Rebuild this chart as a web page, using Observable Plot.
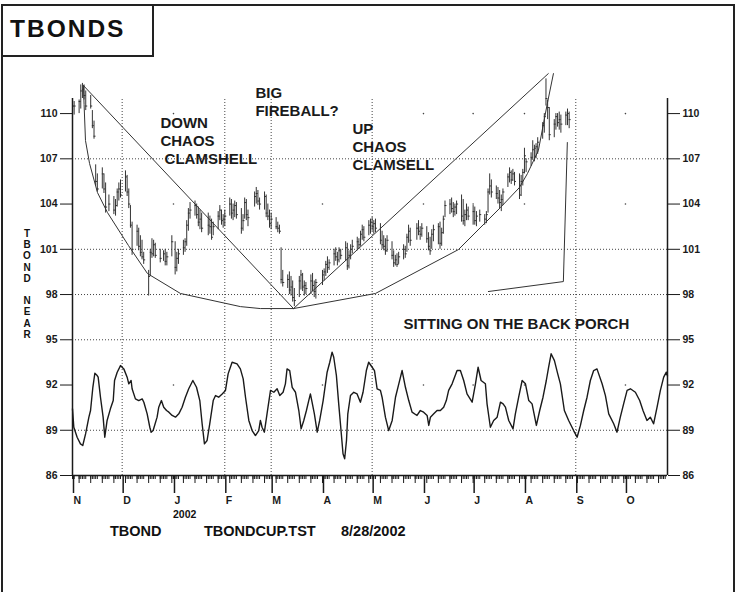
<!DOCTYPE html>
<html><head><meta charset="utf-8">
<script src="https://cdn.jsdelivr.net/npm/d3@7"></script>
<script src="https://cdn.jsdelivr.net/npm/@observablehq/plot@0.6"></script>
<style>
html,body{margin:0;padding:0;background:#fff;}
#wrap{position:relative;width:736px;height:592px;overflow:hidden;font-family:"Liberation Sans",Arial,sans-serif;font-weight:bold;color:#111;}
#outer{position:absolute;left:1px;top:4px;width:734px;height:600px;border:2px solid #222;border-bottom:none;box-sizing:border-box;}
#titlebox{position:absolute;left:1px;top:4px;width:153px;height:53px;border:2px solid #222;box-sizing:border-box;background:#fff;}
.t{position:absolute;line-height:1;white-space:pre;}
#chart{position:absolute;left:0;top:0;}
#ylab{position:absolute;left:21px;top:228px;width:12px;text-align:center;font-size:10px;line-height:11.2px;}
</style></head>
<body>
<div id="wrap">
  <div id="chart"></div>
  <div id="outer"></div>
  <div id="titlebox"></div>
  <div class="t" style="left:10px;top:17px;font-size:24.5px;letter-spacing:2px;">TBONDS</div>
  <div id="ylab">T<br>B<br>O<br>N<br>D<br>&nbsp;<br>N<br>E<br>A<br>R</div>
  <div class="t" style="left:173px;top:509px;font-size:10.5px;">2002</div>
  <div class="t" style="left:110px;top:523.7px;font-size:14.5px;">TBOND</div>
  <div class="t" style="left:204px;top:523.7px;font-size:14.5px;">TBONDCUP.TST</div>
  <div class="t" style="left:341px;top:523.7px;font-size:14.5px;">8/28/2002</div>
</div>
<script>
// ---- data (days counted from 1 Nov 2001) ----
const startDate = "2001-11-01";
const yTicks = [86, 89, 92, 95, 98, 101, 104, 107, 110];
const gridLevels = [89, 95, 98, 101, 107];
const dotLevels = [92, 104, 110];
const gridMonths = ["2001-12-01", "2002-02-01", "2002-03-01", "2002-05-01", "2002-09-01"];
const dotMonths = ["2002-01-01", "2002-04-01", "2002-06-01", "2002-07-01", "2002-08-01", "2002-10-01"];
const monthStarts = ["2001-11-01","2001-12-01","2002-01-01","2002-02-01","2002-03-01","2002-04-01","2002-05-01","2002-06-01","2002-07-01","2002-08-01","2002-09-01","2002-10-01"];
const monthLetters = ["N","D","J","F","M","A","M","J","J","A","S","O"];
const lastDay = 359.4;

// [day, high, low, close]
const priceBars = [
[0,110.9,109.0,110.5],[1,110.8,109.9,110.5],[4,110.9,110.0,110.8],[5,111.9,110.3,111.5],[6,112.0,111.0,111.6],
[7,111.9,110.9,111.2],[8,111.5,110.2,110.5],[11,111.2,110.3,110.5],[12,110.2,109.0,109.2],[13,109.5,108.3,108.5],
[14,106.6,105.2,105.5],[15,106.0,104.8,105.0],[18,106.4,105.0,106.0],[19,106.0,104.7,105.0],[20,105.4,103.4,103.8],
[22,104.6,103.5,104.0],[25,104.5,103.3,103.6],[26,104.3,103.2,103.9],[27,105.0,103.8,104.8],[28,105.4,104.2,105.0],
[29,105.6,104.4,104.6],[32,106.2,104.8,105.8],[33,105.9,104.5,104.8],[34,105.0,103.7,104.0],[35,103.9,102.4,102.6],
[36,102.8,100.6,101.0],[39,102.6,101.2,102.2],[40,102.4,100.9,101.2],[41,101.9,100.5,100.8],[42,101.6,100.3,100.5],
[43,100.8,100.0,100.3],[46,99.6,97.9,99.2],[47,101.0,99.2,100.8],[48,101.7,100.4,100.7],[49,101.6,100.5,101.3],
[50,101.4,100.4,100.6],[53,101.0,100.1,100.4],[55,100.9,100.2,100.7],[56,101.0,99.9,100.2],[57,100.8,99.9,100.5],
[60,101.9,100.5,101.5],[62,101.5,99.3,99.8],[63,100.8,99.5,100.4],[64,101.0,100.0,100.7],[67,101.6,100.6,101.1],
[68,101.7,100.8,101.5],[69,102.9,101.2,102.6],[70,103.7,102.2,103.4],[71,104.1,103.0,103.6],[74,104.2,103.2,103.9],
[75,104.0,103.0,103.3],[76,103.8,102.5,102.8],[77,103.6,102.3,103.0],[78,103.4,102.1,102.4],[82,103.4,101.9,102.6],
[83,103.2,102.0,102.5],[84,103.0,101.6,101.8],[85,102.8,101.9,102.5],[88,103.5,102.3,103.2],[89,103.9,102.9,103.6],
[90,103.6,102.6,102.9],[91,103.3,102.4,103.0],[92,103.6,102.5,103.2],[95,104.4,103.2,104.0],[96,104.3,103.0,103.4],
[97,104.0,102.9,103.6],[98,104.2,103.1,103.9],[99,104.1,103.0,103.3],[102,103.7,102.0,102.4],[103,103.3,102.2,102.9],
[104,104.4,103.0,104.1],[105,104.3,102.9,103.3],[106,103.6,102.5,103.1],[110,104.8,103.8,104.5],[111,105.1,104.0,104.7],
[112,104.9,103.9,104.2],[113,104.4,103.6,104.0],[116,104.8,103.6,104.5],[117,104.6,103.1,103.4],[118,104.0,102.9,103.2],
[119,103.6,102.4,102.7],[120,103.4,102.3,103.0],[123,103.1,102.3,102.5],[124,102.8,102.1,102.4],[125,102.6,102.0,102.2],
[126,101.1,98.7,99.0],[127,99.6,98.5,98.8],[130,99.3,98.4,99.0],[131,99.5,98.0,98.3],[132,99.2,97.9,98.5],
[133,98.9,97.5,97.8],[134,98.4,97.2,97.6],[137,99.2,97.8,98.9],[138,99.6,98.3,99.3],[139,99.4,98.2,98.5],
[140,98.9,97.9,98.6],[141,98.8,98.0,98.4],[144,99.3,98.0,98.9],[145,99.4,98.2,98.6],[146,98.9,97.8,98.2],
[147,99.0,97.7,98.8],[151,99.6,98.6,99.3],[152,99.7,98.9,99.5],[153,100.2,99.2,100.0],[154,100.5,99.4,99.8],
[155,100.3,99.6,100.1],[158,101.0,99.9,100.7],[159,101.1,100.2,100.5],[160,100.8,99.9,100.3],[161,101.1,100.1,100.9],
[162,101.0,100.3,100.6],[165,101.5,100.2,101.1],[166,101.4,99.6,99.9],[167,100.9,99.7,100.6],[168,101.3,100.3,101.0],
[169,101.6,100.7,101.2],[172,101.8,100.9,101.5],[173,101.7,101.0,101.3],[174,102.2,101.2,102.0],[175,102.6,101.6,102.3],
[176,102.5,101.5,101.8],[179,102.9,101.9,102.6],[180,103.0,102.0,102.8],[181,103.1,102.2,102.5],[182,102.9,102.0,102.7],
[183,103.0,102.1,102.4],[186,102.7,101.3,101.6],[187,102.2,101.0,101.3],[188,101.9,100.9,101.2],[189,101.7,100.6,100.9],
[190,101.9,100.8,101.6],[193,101.5,100.3,100.6],[194,100.9,99.8,100.1],[195,100.6,99.9,100.3],[196,100.7,99.8,100.0],
[197,100.8,100.0,100.5],[200,101.3,100.3,101.0],[201,101.2,100.4,100.7],[202,102.0,100.8,101.8],[203,102.6,101.4,102.2],
[204,102.4,101.2,101.6],[208,102.7,101.6,102.4],[209,102.9,101.9,102.2],[210,102.5,101.6,102.0],[211,102.7,101.8,102.4],
[214,102.5,101.4,101.7],[215,102.1,100.9,101.2],[216,101.8,100.6,100.9],[217,102.3,101.0,102.0],[218,102.6,101.5,102.3],
[221,102.7,101.3,102.5],[222,102.8,101.0,101.4],[223,102.4,101.2,102.1],[224,103.2,102.0,103.0],[225,104.2,103.1,103.9],
[228,104.3,103.3,104.0],[229,104.4,103.4,103.7],[230,104.1,103.1,103.5],[231,104.0,103.2,103.8],[232,104.2,103.3,104.0],
[235,104.6,102.8,103.2],[236,104.3,102.6,102.9],[237,103.6,102.5,103.3],[238,104.0,102.9,103.6],[239,103.8,102.9,103.2],
[242,103.9,102.6,103.5],[243,103.8,102.6,102.9],[244,103.5,102.5,103.2],[246,103.6,102.8,103.3],[249,103.3,102.6,103.0],
[250,103.5,102.7,103.3],[251,105.0,103.4,104.8],[252,106.0,104.6,105.2],[253,105.6,104.4,104.8],[256,105.2,104.3,104.7],
[257,105.1,104.0,104.4],[258,104.9,103.7,104.1],[259,104.6,103.5,104.3],[260,105.0,103.9,104.8],[263,106.0,105.1,105.8],
[264,106.4,105.4,106.1],[265,106.2,105.3,105.6],[266,106.3,105.5,106.0],[267,106.1,105.2,105.5],[270,106.0,104.3,104.6],
[271,105.9,104.5,105.5],[272,106.3,105.2,106.1],[273,107.7,106.0,107.2],[274,107.0,106.1,106.8],[277,107.4,106.5,107.1],
[278,108.2,106.9,107.6],[279,107.9,106.8,107.7],[280,108.0,107.0,107.8],[281,108.4,107.3,108.1],[284,109.4,108.3,109.2],
[285,110.0,108.7,109.8],[286,112.3,110.5,111.0],[287,110.9,109.6,110.4],[288,110.4,108.2,108.6],[291,109.6,108.4,109.3],
[292,110.0,108.9,109.8],[293,110.0,109.1,109.4],[294,110.1,108.9,109.6],[295,109.9,108.7,109.3],[298,110.1,109.2,109.9],
[299,110.3,109.2,110.0],[300,110.1,109.0,109.6]
];

// oscillator [day, value]
const oscillator = [
[0,90.42],[0.8,89.2],[2.8,88.54],[4.8,88.1],[6.2,87.99],[7.9,88.76],[9.9,89.87],[10.9,90.31],[12.3,91.85],[13.5,92.78],
[14.9,92.63],[15.5,92.52],[16.9,91.19],[18.5,89.87],[19.5,88.54],[20.9,89.65],[22.9,90.42],[24.6,90.97],[25.4,92.3],[27,92.85],
[29,93.29],[31,93.07],[33,92.52],[34,92.08],[35.4,92.3],[36,91.75],[38,91.08],[40,90.97],[42.1,91.08],[43.1,90.86],
[45.1,90.09],[46.7,89.2],[47.5,88.87],[48.7,88.98],[51.1,89.87],[52.1,90.53],[53.7,90.97],[55.1,90.53],[56.8,90.31],[58.2,90.2],
[60.2,89.98],[62.2,89.87],[64.2,90.09],[66.2,90.53],[68.2,91.19],[70.2,91.75],[72.7,92.3],[74.9,91.85],[76.9,90.97],[78.3,89.43],
[79.7,88.1],[81.3,88.32],[82.9,89.43],[85,90.97],[86.4,91.3],[88.3,91.19],[90.4,91.41],[92.4,91.64],[94,92.74],[96.4,93.51],
[99.4,93.4],[101.4,93.07],[103.1,92.41],[104.5,91.19],[106.5,89.65],[108.5,88.98],[110.5,88.65],[112.5,88.98],[113.5,89.65],[114.5,89.2],
[115.9,88.87],[117.5,90.09],[119.6,91.64],[121.6,91.52],[123.6,91.75],[125.2,91.3],[127.2,91.52],[128.6,92.08],[129.6,93.07],[131.2,92.96],
[132.7,91.85],[134.7,91.52],[136.7,90.31],[138.1,89.09],[139.7,89.65],[141.3,90.31],[142.7,90.97],[143.7,91.41],[144.7,90.86],[146.1,90.09],
[147.8,88.87],[149.3,89.65],[151.4,90.97],[153.8,92.85],[155.4,93.51],[156.8,94.18],[157.8,93.84],[159.4,92.63],[160.8,90.75],[162.2,88.98],
[163.4,87.44],[164.4,87.11],[165.5,88.32],[166.3,90.09],[167.9,91.3],[169.9,91.52],[171.9,91.41],[173.9,90.86],[175.5,91.52],[177.5,92.96],
[178.9,93.51],[181,93.18],[182.4,92.96],[184,91.75],[186,91.64],[187,91.19],[189,89.87],[191,88.98],[193.1,89.65],[195.1,91.19],
[197.1,92.08],[199.1,92.96],[201.1,91.85],[203.1,90.97],[205.1,90.2],[208.1,89.98],[210.1,90.31],[212.1,90.2],[214.2,89.98],[215.2,89.32],
[216.2,89.87],[218.2,90.09],[220.2,90.31],[222.2,90.31],[224.2,90.53],[225.8,90.97],[227.2,91.64],[229.3,92.08],[232.3,92.96],[234.3,92.96],
[236.3,92.3],[238.3,91.41],[241.4,90.86],[243.4,92.08],[245,93.18],[246.8,92.3],[249.4,92.08],[250.4,90.75],[252.4,89.2],[254.4,89.65],
[256.5,89.87],[258.5,90.86],[260.1,90.75],[261.5,90.53],[263.5,89.65],[266.1,89.09],[267.5,90.09],[269.5,91.19],[271.6,92.3],[273.6,92.08],
[275.6,90.97],[277.6,90.75],[280.2,89.32],[282.2,90.31],[284.2,91.19],[286.2,92.3],[287.6,93.18],[289.1,94.07],[291.1,93.62],[293.1,92.74],
[294.7,92.08],[297.1,90.31],[299.7,89.65],[302.7,88.98],[304.8,88.54],[306.8,89.32],[308.8,90.31],[310.8,91.19],[312.8,92.3],[314.8,92.96],
[316.8,93.07],[319.9,92.08],[321.9,91.3],[323.9,90.09],[326.9,89.43],[328.9,88.87],[330.9,89.87],[332.9,90.75],[335,91.64],[337,91.75],
[340,91.52],[342.6,90.97],[344.6,90.31],[347,89.65],[349,89.87],[351,89.43],[353.1,90.53],[355.1,91.64],[357.1,92.52],[358.7,92.85],[359.4,92.6]
];

// hand-drawn annotation lines [day, value]
const downUpper = [[6.6,111.86],[133.5,97.07]];
const downLower = [[6.6,111.86],[7.0,110.6],[7.85,108.21],[10.3,106.69],[15.1,104.76],[21.1,103.44],[33.8,101.25],[45.3,99.39],[65.2,98.07],[101.4,97.2],[113.5,97.07],[133.5,97.07]];
const upUpper = [[133.5,97.07],[287.4,112.65]];
const upLower = [[133.5,97.07],[183,98.07],[233.1,100.98],[249.4,102.77],[258.5,103.77],[269.9,105.09],[274.8,106.02],[281.4,107.55],[286.8,110.66],[290.5,112.65]];
const backPorch = [[251.2,98.2],[296.5,98.86],[298.9,108.08]];

const noteText = ["DOWN\nCHAOS\n\u00a0CLAMSHELL", "BIG\nFIREBALL?", "UP\nCHAOS\nCLAMSELL", "SITTING ON THE BACK PORCH"];
const noteDay = [53.1, 110.5, 169.1, 199.9];
const noteValue = [109.87, 111.86, 109.47, 96.54];

// ---- chart ----
const t0 = new Date(startDate + "T00:00:00Z");
const day = d => new Date(+t0 + d * 864e5);
const parse = s => new Date(s + "T00:00:00Z");
const tEnd = day(lastDay);
const weekdays = d3.utcDays(t0, tEnd).filter(d => d.getUTCDay() % 6 !== 0);
const mondays = d3.utcMondays(t0, tEnd);
const notes = noteText.map((t, i) => ({t, d: noteDay[i], v: noteValue[i]}));
const gridDots = dotMonths.flatMap(m => dotLevels.map(v => ({m: parse(m), v})));
const ink = "#1a1a1a";

const chart = Plot.plot({
  width: 736, height: 592,
  marginLeft: 72, marginRight: 69, marginTop: 98, marginBottom: 117,
  style: {fontFamily: "'Liberation Sans', Arial, sans-serif", fontSize: "10.5px", fontWeight: "bold", background: "transparent", color: ink, overflow: "visible"},
  x: {type: "utc", domain: [t0, tEnd]},
  y: {domain: [86, 111]},
  marks: [
    Plot.ruleY(gridLevels, {stroke: "#444", strokeDasharray: "1,2", strokeWidth: 1}),
    Plot.ruleX(gridMonths.map(parse), {y1: 86, y2: 111, stroke: "#444", strokeDasharray: "1,2", strokeWidth: 1}),
    Plot.dot(gridDots, {x: "m", y: "v", r: 0.8, fill: "#444", stroke: null}),
    Plot.line(oscillator, {x: d => day(d[0]), y: d => d[1], stroke: ink, strokeWidth: 1.4}),
    Plot.ruleX(priceBars, {x: d => day(d[0]), y1: d => d[2], y2: d => d[1], stroke: "#333", strokeWidth: 1}),
    Plot.ruleY(priceBars, {y: d => d[3], x1: d => day(d[0]), x2: d => day(d[0] + 1.2), stroke: "#333", strokeWidth: 1}),
    Plot.line(downUpper, {x: d => day(d[0]), y: d => d[1], stroke: "#333", strokeWidth: 1}),
    Plot.line(downLower, {x: d => day(d[0]), y: d => d[1], stroke: "#333", strokeWidth: 1}),
    Plot.line(upUpper, {x: d => day(d[0]), y: d => d[1], stroke: "#333", strokeWidth: 1}),
    Plot.line(upLower, {x: d => day(d[0]), y: d => d[1], stroke: "#333", strokeWidth: 1}),
    Plot.line(backPorch, {x: d => day(d[0]), y: d => d[1], stroke: "#333", strokeWidth: 1}),
    Plot.text(notes, {x: d => day(d.d), y: "v", text: "t", textAnchor: "start", lineAnchor: "top", lineHeight: 1.2, fontSize: 15, fontWeight: "bold", fill: ink}),
    Plot.ruleX([t0, tEnd], {y1: 86, y2: 111, stroke: ink, strokeWidth: 1.5}),
    Plot.ruleY([86], {stroke: ink, strokeWidth: 1.5}),
    Plot.axisY({anchor: "left", ticks: yTicks, tickSize: 12, tickPadding: 3, label: null, stroke: ink}),
    Plot.axisY({anchor: "right", ticks: yTicks, tickSize: 12, tickPadding: 3, label: null, stroke: ink}),
    Plot.axisX({ticks: weekdays, tickSize: 4, tickFormat: () => "", label: null, stroke: ink}),
    Plot.axisX({ticks: mondays, tickSize: 8, tickFormat: () => "", label: null, stroke: ink}),
    Plot.axisX({ticks: monthStarts.map(parse), tickSize: 18, tickPadding: 3, tickFormat: (d, i) => monthLetters[i], textAnchor: "start", dx: 1, label: null, stroke: ink, strokeWidth: 1.5})
  ]
});
document.getElementById("chart").appendChild(chart);
</script>
</body></html>
